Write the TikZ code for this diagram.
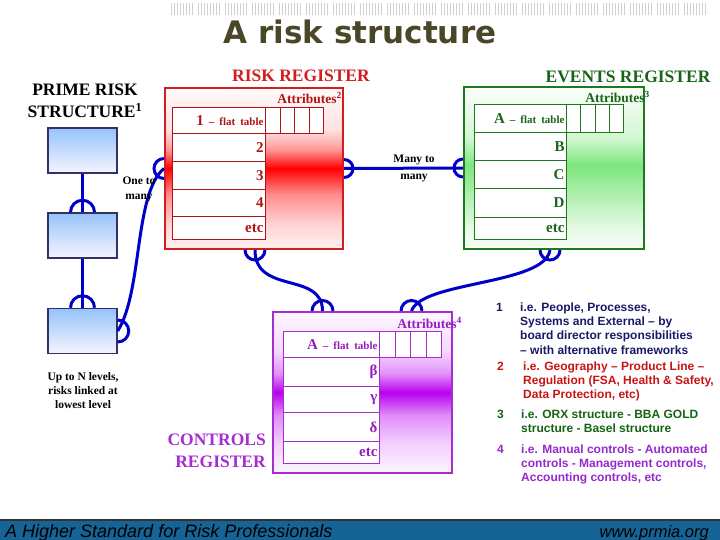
\documentclass[tikz,border=0pt]{standalone}
\usepackage{fontspec}
\setmainfont{Liberation Serif}
\setsansfont{Liberation Sans}
\newfontfamily\titlefont{DejaVu Sans}
\usetikzlibrary{positioning}

\definecolor{titlecol}{RGB}{74,70,40}
\definecolor{riskred}{RGB}{210,30,30}
\definecolor{riskdark}{RGB}{175,20,20}
\definecolor{evgreen}{RGB}{30,120,30}
\definecolor{evdark}{RGB}{25,100,25}
\definecolor{evpeak}{RGB}{125,230,125}
\definecolor{ctlpurple}{RGB}{165,45,210}
\definecolor{ctldark}{RGB}{150,30,190}
\definecolor{ctlpeak}{RGB}{185,0,240}
\definecolor{linkblue}{RGB}{0,0,200}
\definecolor{primeline}{RGB}{50,50,105}
\definecolor{primetop}{RGB}{150,195,250}
\definecolor{notenavy}{RGB}{25,25,105}
\definecolor{notered}{RGB}{200,20,20}
\definecolor{notegreen}{RGB}{20,100,20}
\definecolor{notepurple}{RGB}{150,40,205}
\definecolor{barblue}{RGB}{22,100,150}

\pgfdeclareverticalshading{redband}{100bp}{color(0bp)=(red!5); color(25bp)=(red!5); color(33bp)=(red!18); color(42bp)=(red!45); color(50bp)=(red); color(56bp)=(red!40); color(62bp)=(red!12); color(75bp)=(red!2); color(100bp)=(red!2)}
\pgfdeclareverticalshading{greenband}{100bp}{color(0bp)=(evpeak!6); color(25bp)=(evpeak!6); color(31bp)=(evpeak!18); color(40bp)=(evpeak!55); color(51bp)=(evpeak); color(59bp)=(evpeak!35); color(75bp)=(evpeak!3); color(100bp)=(evpeak!3)}
\pgfdeclareverticalshading{purpleband}{100bp}{color(0bp)=(ctlpeak!4); color(25bp)=(ctlpeak!4); color(34bp)=(ctlpeak!18); color(43bp)=(ctlpeak!45); color(50bp)=(ctlpeak); color(56bp)=(ctlpeak!42); color(63bp)=(ctlpeak!15); color(75bp)=(ctlpeak!3); color(100bp)=(ctlpeak!3)}

\newcommand\flattable{{\fontsize{11}{12}\selectfont\ – flat table}}

\tikzset{
  register/.style={shade, line width=2pt, inner sep=0pt},
  tablerow/.style={draw, fill=white, line width=1pt, anchor=north west, inner sep=0pt, inner xsep=2pt, align=right, font=\bfseries\fontsize{15}{15}\selectfont},
  attrcell/.style={draw, fill=white, line width=1pt, anchor=north west, minimum width=14.5pt, inner sep=0pt},
  attrlabel/.style={font=\bfseries\fontsize{13.5}{14}\selectfont, anchor=east, inner sep=0pt},
  regtitle/.style={font=\bfseries\fontsize{17.5}{21}\selectfont, inner sep=0pt},
  primebox/.style={draw=primeline, line width=1.5pt, top color=primetop, bottom color=white!96!blue, minimum width=69pt, minimum height=45pt, inner sep=0pt},
  link/.style={draw=linkblue, line width=3pt},
  linklabel/.style={font=\bfseries\fontsize{11.5}{15}\selectfont, align=center, inner sep=0pt},
  note/.style={font=\sffamily\bfseries\fontsize{12}{14.3}\selectfont, align=left, anchor=north west, inner sep=0pt},
}

\begin{document}
\begin{tikzpicture}[x=1pt,y=-1pt]
  \useasboundingbox (0,0) rectangle (720,540);
  \foreach \g in {0,...,19} {
    \foreach \j in {0,...,7} { \draw[gray!35, line width=0.7pt] (171+27*\g+3*\j,3) -- (171+27*\g+3*\j,15); }
  }
  \node[font=\titlefont\bfseries\fontsize{31}{31}\selectfont, text=titlecol] (title) at (360,32) {A risk structure};

  \node[regtitle, align=center, font=\bfseries\fontsize{17.5}{22}\selectfont] (primetitle) at (85,101) {PRIME RISK\\STRUCTURE\textsuperscript{1}};
  \node[primebox] (prime1) at (82.5,150.5) {};
  \node[primebox] (prime2) at (82.5,235.5) {};
  \node[primebox] (prime3) at (82.5,331) {};
  \node[linklabel, font=\bfseries\fontsize{11.5}{14}\selectfont] (uptonlevels) at (83,391) {Up to N levels,\\risks linked at\\lowest level};

  \node[register, draw=riskred, shading=redband, minimum width=178pt, minimum height=161pt] (riskreg) at (254,168.5) {};
  \node[regtitle, text=riskred] (risktitle) at (301,76) {RISK REGISTER};
  \node[attrlabel, text=riskdark] (riskattrlabel) at (342,98) {Attributes\textsuperscript{2}};
  \foreach \y/\h/\lab [count=\i] in {107/26/{1\flattable}, 133/28/2, 161/28/3, 189/27/4, 216/23/etc} {
    \node[tablerow, draw=riskdark, text=riskdark, text width=89pt, minimum height=\h pt] (riskrow\i) at (172,\y) {\lab};
  }
  \foreach \i in {1,...,4} { \node[attrcell, draw=riskdark, minimum height=26pt] (riskattr\i) at (250.5+14.5*\i,107) {}; }

  \node[register, draw=evgreen, shading=greenband, minimum width=180pt, minimum height=162pt] (eventsreg) at (554,168) {};
  \node[regtitle, text=evdark] (eventstitle) at (628,77) {EVENTS REGISTER};
  \node[attrlabel, text=evdark] (eventsattrlabel) at (650,97) {Attributes\textsuperscript{3}};
  \foreach \y/\h/\lab [count=\i] in {104/28/{A\flattable}, 132/28/B, 160/28/C, 188/29/D, 217/22/etc} {
    \node[tablerow, draw=evgreen, text=evdark, text width=88pt, minimum height=\h pt] (eventsrow\i) at (474,\y) {\lab};
  }
  \foreach \i in {1,...,4} { \node[attrcell, draw=evgreen, minimum width=14.25pt, minimum height=28pt] (eventsattr\i) at (551.75+14.25*\i,104) {}; }

  \node[register, draw=ctlpurple, shading=purpleband, minimum width=179pt, minimum height=161pt] (controlsreg) at (362.5,392.5) {};
  \node[regtitle, text=ctlpurple, align=right, anchor=east, font=\bfseries\fontsize{17.5}{22}\selectfont] (controlstitle) at (266,451) {CONTROLS\\REGISTER};
  \node[attrlabel, text=ctldark] (controlsattrlabel) at (462,323) {Attributes\textsuperscript{4}};
  \foreach \y/\h/\lab [count=\i] in {331/26/{A\flattable}, 357/29/β, 386/26/γ, 412/29/δ, 441/22/etc} {
    \node[tablerow, draw=ctlpurple, text=ctldark, text width=92pt, minimum height=\h pt] (controlsrow\i) at (283,\y) {\lab};
  }
  \foreach \i in {1,...,4} { \node[attrcell, draw=ctlpurple, minimum width=15.5pt, minimum height=26pt] (controlsattr\i) at (363.5+15.5*\i,331) {}; }

  \draw[link] (prime1.south) -- (prime2.north);
  \draw[link] (prime2.south) -- (prime3.north);
  \draw[link] ([xshift=12pt]prime2.north) arc[start angle=0, end angle=180, radius=12pt];
  \draw[link] ([xshift=12pt]prime3.north) arc[start angle=0, end angle=180, radius=12pt];

  \draw[link] (prime3.east) .. controls +(25,-40) and +(-30,25) .. (riskreg.west);
  \draw[link] ([yshift=-11pt]prime3.east) arc[start angle=-90, end angle=90, radius=11pt];
  \draw[link] ([yshift=10pt]riskreg.west) arc[start angle=90, end angle=270, radius=10pt];
  \node[linklabel] (onetomany) at (139,189) {One to\\many};

  \draw[link] (riskreg.east) -- (eventsreg.west);
  \draw[link] ([yshift=-9pt]riskreg.east) arc[start angle=-90, end angle=90, radius=9pt];
  \draw[link] ([yshift=9pt]eventsreg.west) arc[start angle=90, end angle=270, radius=9pt];
  \node[linklabel, font=\bfseries\fontsize{11.5}{17}\selectfont] (manytomany) at (414,168) {Many to\\many};

  \coordinate (riskfoot) at ([xshift=1pt]riskreg.south);
  \coordinate (eventsfoot) at ([xshift=-4pt]eventsreg.south);
  \coordinate (controlshead1) at ([xshift=-40pt]controlsreg.north);
  \coordinate (controlshead2) at ([xshift=49pt]controlsreg.north);
  \draw[link] (riskfoot) .. controls +(0,45) and +(0,-40) .. (controlshead1);
  \draw[link] (eventsfoot) .. controls +(-5,35) and +(10,-30) .. (controlshead2);
  \draw[link] ([xshift=-10pt]riskfoot) arc[start angle=180, end angle=360, radius=10pt];
  \draw[link] ([xshift=-10pt]eventsfoot) arc[start angle=180, end angle=360, radius=10pt];
  \draw[link] ([xshift=10.5pt]controlshead1) arc[start angle=0, end angle=180, radius=10.5pt];
  \draw[link] ([xshift=10.5pt]controlshead2) arc[start angle=0, end angle=180, radius=10.5pt];

  \node[note, text=notenavy, anchor=base west] (num1) at (496,311) {1};
  \node[note, text=notenavy] (note1) at (520,302.5) {i.e. People, Processes,\\Systems and External – by\\board director responsibilities\\– with alternative frameworks};
  \node[note, text=notered, anchor=base west] (num2) at (497,370) {2};
  \node[note, text=notered] (note2) at (523,361.3) {i.e. Geography – Product Line –\\Regulation (FSA, Health \& Safety,\\Data Protection, etc)};
  \node[note, text=notegreen, anchor=base west] (num3) at (497,418) {3};
  \node[note, text=notegreen] (note3) at (521,409.3) {i.e. ORX structure - BBA GOLD\\structure - Basel structure};
  \node[note, text=notepurple, anchor=base west] (num4) at (497,453) {4};
  \node[note, text=notepurple] (note4) at (521,444.3) {i.e. Manual controls - Automated\\controls - Management controls,\\Accounting controls,  etc};

  \fill[barblue] (0,520) rectangle (720,540);
  \draw[line width=2pt, black!80] (0,520) -- (720,520);
  \node[font=\sffamily\itshape\fontsize{18}{18}\selectfont, anchor=base west, inner sep=0pt] (tagline) at (5,537) {A Higher Standard for Risk Professionals};
  \node[font=\sffamily\itshape\fontsize{16.5}{17}\selectfont, anchor=base east, inner sep=0pt] (website) at (709,537) {www.prmia.org};
\end{tikzpicture}
\end{document}
